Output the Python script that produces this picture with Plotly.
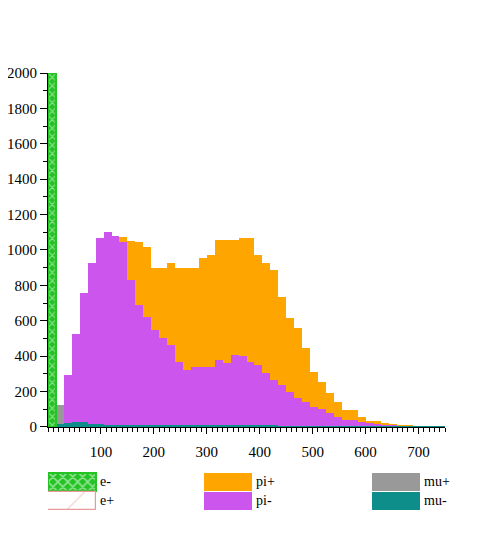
import plotly.graph_objects as go

# histogram bins (width 15) and counts
bin_width = 15
bin_centers = [7.5 + bin_width * k for k in range(50)]

pi_plus = [0, 40, 150, 320, 520, 700, 850, 960, 1030, 1075,
           1050, 1047, 1019, 897, 897, 925, 897, 897, 897, 953,
           972, 1056, 1056, 1056, 1066, 1066, 972, 925, 887, 736,
           614, 558, 445, 312, 256, 190, 143, 96, 96, 58,
           36, 36, 21, 14, 8, 6, 4, 3, 2, 1]
pi_minus = [0, 0, 294, 525, 755, 928, 1066, 1100, 1080, 1047,
            830, 689, 623, 548, 501, 463, 369, 322, 340, 340,
            340, 378, 360, 407, 400, 369, 350, 303, 265, 237,
            200, 162, 143, 115, 100, 77, 58, 40, 38, 26,
            22, 18, 10, 8, 5, 4, 3, 2, 2, 1]
mu_plus = [60, 124, 90, 60, 40, 30, 25, 20, 18, 16,
           14, 12, 10, 10, 9, 8, 8, 7, 7, 6,
           6, 5, 5, 5, 4, 4, 4, 3, 3, 3,
           3, 2, 2, 2, 2, 2, 1, 1, 1, 1,
           1, 1, 1, 1, 1, 0, 0, 0, 0, 0]
mu_minus = [10, 14, 22, 30, 26, 18, 14, 12, 12, 11,
            11, 10, 10, 10, 9, 9, 9, 8, 8, 8,
            8, 7, 7, 7, 7, 6, 6, 6, 6, 5,
            5, 5, 5, 5, 4, 4, 4, 4, 4, 4,
            3, 3, 3, 3, 3, 3, 3, 2, 2, 2]
e_plus = [90]
e_minus = [2000]

orange = "#ffa500"
purple = "#cc55ee"
gray = "#999999"
teal = "#0e8e8b"
green = "#22c322"
pink = "#e89a9a"
serif = "Liberation Serif"

fig = go.Figure()

def hist(y, color, name):
    fig.add_trace(go.Bar(x=bin_centers[:len(y)], y=y, width=bin_width, name=name,
                         marker=dict(color=color, line=dict(width=0))))

hist(pi_plus, orange, "pi+")
hist(mu_plus, gray, "mu+")
hist(pi_minus, purple, "pi-")
hist(mu_minus, teal, "mu-")
fig.add_trace(go.Bar(x=bin_centers[:len(e_plus)], y=e_plus, width=bin_width, name="e+",
                     marker=dict(color="rgba(255,255,255,0)", line=dict(color=pink, width=1),
                                 pattern=dict(shape="/", fgcolor=pink, size=14, solidity=0.05))))
fig.add_trace(go.Bar(x=bin_centers[:len(e_minus)], y=e_minus, width=bin_width, name="e-",
                     marker=dict(color=green, line=dict(color=green, width=2),
                                 pattern=dict(shape="x", fgcolor="white", bgcolor=green,
                                              size=6, solidity=0.35))))

# hand-made legend in its own little axes below the plot
legend_items = [("e-", 0, 1), ("e+", 0, 0), ("pi+", 156, 1), ("pi-", 156, 0),
                ("mu+", 324, 1), ("mu-", 324, 0)]
styles = {
    "e-": dict(color=green, line=dict(color=green, width=2),
               pattern=dict(shape="x", fgcolor="white", bgcolor=green, size=7, solidity=0.4)),
    "e+": dict(color="rgba(255,255,255,0)", line=dict(color=pink, width=1.2),
               pattern=dict(shape="/", fgcolor=pink, size=40, solidity=0.03)),
    "pi+": dict(color=orange, line=dict(width=0)),
    "pi-": dict(color=purple, line=dict(width=0)),
    "mu+": dict(color=gray, line=dict(width=0)),
    "mu-": dict(color=teal, line=dict(width=0)),
}
for name, x0, row in legend_items:
    fig.add_trace(go.Bar(x=[x0 + 24], y=[0.96], base=[row], width=48,
                         marker=styles[name], xaxis="x2", yaxis="y2", showlegend=False))
    fig.add_annotation(x=x0 + 50, y=row + 0.5, xref="x2", yref="y2", text=name,
                       showarrow=False, xanchor="left",
                       font=dict(family=serif, size=14, color="black"))

# the page body has an 8px margin, so the figure is trimmed by that much
fig.update_layout(
    width=469, height=540,
    margin=dict(l=40, r=32, t=65, b=38, autoexpand=False),
    paper_bgcolor="white", plot_bgcolor="white",
    barmode="overlay", bargap=0, showlegend=False,
    font=dict(family=serif, size=15, color="black"),
    xaxis=dict(range=[0, 750], domain=[0, 1], tickvals=list(range(100, 800, 100)),
               ticks="outside", ticklen=6, tickcolor="black", showgrid=False, zeroline=False,
               showline=True, linecolor="black", linewidth=1, anchor="y", automargin=False,
               ticklabelstandoff=5,
               minor=dict(dtick=10, tick0=0, ticks="outside", ticklen=4, tickcolor="black")),
    yaxis=dict(range=[0, 2000], domain=[0.19, 1], dtick=200, ticks="outside", ticklen=7,
               tickcolor="black", showgrid=False, zeroline=False, showline=True,
               linecolor="black", linewidth=1, anchor="x", automargin=False,
               minor=dict(dtick=100, ticks="outside", ticklen=4, tickcolor="black")),
    xaxis2=dict(range=[0, 397], domain=[0, 1], visible=False, anchor="y2", fixedrange=True),
    yaxis2=dict(range=[0, 2], domain=[0.0, 0.087], visible=False, anchor="x2", fixedrange=True),
)

fig.write_html("out.html")
